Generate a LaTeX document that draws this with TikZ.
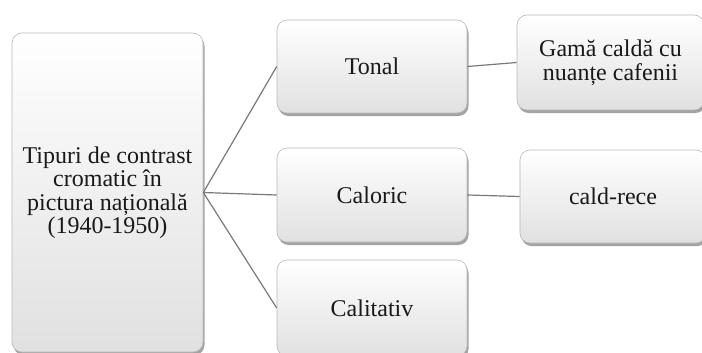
\documentclass[tikz,border=0pt]{standalone}
\usepackage{fontspec}
\setmainfont{Liberation Serif}
\usetikzlibrary{shadows}
\begin{document}
\begin{tikzpicture}[x=1pt,y=-1pt,
  box/.style={draw=gray!55, line width=0.6pt, rounded corners=10pt,
    top color=white, bottom color=gray!24,
    drop shadow={shadow xshift=1.5pt, shadow yshift=-3pt, opacity=0.6, fill=gray!80!black},
    align=center, inner sep=2pt, font=\fontsize{24}{23.5}\selectfont, text=black!90},
  link/.style={draw=gray!95!black, line width=1.2pt}]
\useasboundingbox (0,0) rectangle (702,353);
\fill[white] (0,0) rectangle (702,353);
\node[box, minimum width=191pt, minimum height=319pt] (root) at (107.5,192.5)
  {Tipuri de contrast\\cromatic în\\pictura națională\\(1940-1950)};
\node[box, minimum width=190pt, minimum height=93pt] (tonal) at (372,66.5) {Tonal};
\node[box, minimum width=190pt, minimum height=94pt] (caloric) at (372,195) {Caloric};
\node[box, minimum width=190pt, minimum height=96pt] (calit) at (372,308) {Calitativ};
\node[box, minimum width=187pt, minimum height=95pt] (gama) at (610.5,62.5) {Gamă caldă cu\\nuanțe cafenii};
\node[box, minimum width=186pt, minimum height=93pt] (cald) at (613,196.5) {cald-rece};
\draw[link] (root.east) -- (tonal.west);
\draw[link] (root.east) -- (caloric.west);
\draw[link] (root.east) -- (calit.west);
\draw[link] (tonal.east) -- (gama.west);
\draw[link] (caloric.east) -- (cald.west);
\end{tikzpicture}
\end{document}
